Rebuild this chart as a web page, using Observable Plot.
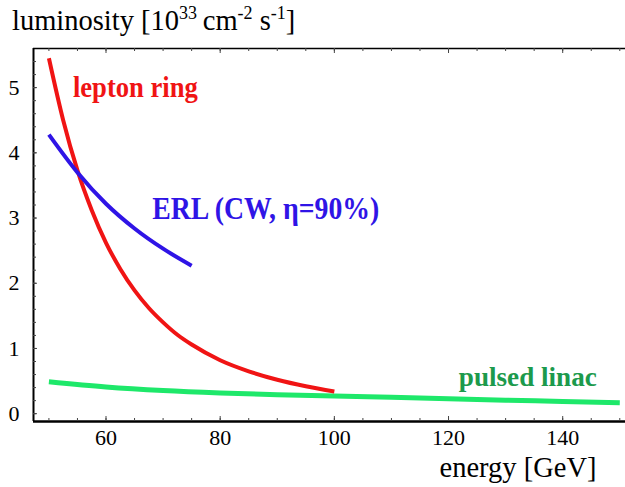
<!DOCTYPE html>
<html>
<head>
<meta charset="utf-8">
<script src="https://cdn.jsdelivr.net/npm/d3@7"></script>
<script src="https://cdn.jsdelivr.net/npm/@observablehq/plot@0.6"></script>
<style>
  html, body { margin: 0; padding: 0; background: #fff; }
  #chart { position: relative; width: 625px; height: 487px; font-family: "Liberation Serif", "Times New Roman", serif; color: #000; }
  #ytitle { position: absolute; left: 12px; top: 4px; font-size: 28.5px; line-height: 34px; white-space: nowrap; }
  #ytitle sup { font-size: 18px; vertical-align: 0; position: relative; top: -11px; }
  #chart svg { display: block; }
</style>
</head>
<body>
<div id="chart">
  <div id="ytitle">luminosity [10<sup>33</sup>&#8201;cm<sup>-2</sup> s<sup>-1</sup>]</div>
</div>
<script>
// Lepton ring: luminosity falls steeply with beam energy
const ringEnergy = [50, 52.5, 55, 57.5, 60, 62.5, 65, 67.5, 70, 72.5, 75, 80, 85, 90, 95, 100];
const ringLumi   = [5.45, 4.50, 3.73, 3.12, 2.62, 2.22, 1.89, 1.62, 1.40, 1.21, 1.06, 0.82, 0.65, 0.52, 0.42, 0.34];

// Energy-recovery linac, continuous wave, 90% recovery efficiency
const erlEnergy = [50, 55, 60, 65, 70, 75];
const erlLumi   = [4.28, 3.70, 3.22, 2.84, 2.53, 2.27];

// Pulsed linac
const linacEnergy = [50, 60, 70, 80, 90, 100, 110, 120, 130, 140, 150];
const linacLumi   = [0.49, 0.41, 0.355, 0.318, 0.292, 0.27, 0.25, 0.227, 0.207, 0.188, 0.168];

// Curve labels
const labelText   = ["lepton ring", "ERL (CW, \u03b7=90%)", "pulsed linac"];
const labelEnergy = [54.2, 68.1, 121.8];
const labelLumi   = [4.85, 2.98, 0.43];

// Axis ticks
const xMajor = [60, 80, 100, 120, 140];
const xMinor = d3.range(50, 151, 5);
const yMajor = [0, 1, 2, 3, 4, 5];
const yMinor = d3.range(0, 5.5, 0.2);

const xDomain = [47.3, 151];
const yDomain = [-0.12, 5.6];

const toRows = (xs, ys) => xs.map((e, i) => ({energy: e, lumi: ys[i]}));
const ring = toRows(ringEnergy, ringLumi);
const erl = toRows(erlEnergy, erlLumi);
const linac = toRows(linacEnergy, linacLumi);
const labels = labelText.map((t, i) => ({text: t, energy: labelEnergy[i], lumi: labelLumi[i]}));

const W = 625, H = 487;
const mTop = 48, mBottom = 66, mLeft = 33, mRight = 0;
const plotH = H - mTop - mBottom;
const plotW = W - mLeft - mRight;

const red = "#f01414", blue = "#2f14e6", green = "#1ee86a", greenText = "#1c9a4c";

const chart = Plot.plot({
  width: W,
  height: H,
  marginTop: mTop,
  marginBottom: mBottom,
  marginLeft: mLeft,
  marginRight: mRight,
  style: {fontFamily: "'Liberation Serif', 'Times New Roman', serif", background: "#fff", color: "#000"},
  x: {domain: xDomain, axis: null, label: null},
  y: {domain: yDomain, axis: null, label: null},
  marks: [
    // frame: left, bottom, top edges
    Plot.ruleX([xDomain[0]], {stroke: "#000", strokeWidth: 2}),
    Plot.ruleY([yDomain[0]], {stroke: "#000", strokeWidth: 2.5}),
    Plot.ruleY([yDomain[1]], {stroke: "#000", strokeWidth: 1.5}),
    // inward tick marks on bottom and top
    Plot.tickX(xMinor, {x: d => d, insetTop: plotH - 3, stroke: "#444"}),
    Plot.tickX(xMajor, {x: d => d, insetTop: plotH - 5, stroke: "#444"}),
    Plot.tickX(xMinor, {x: d => d, insetBottom: plotH - 3, stroke: "#444"}),
    Plot.tickX(xMajor, {x: d => d, insetBottom: plotH - 5, stroke: "#444"}),
    // inward tick marks on the left
    Plot.tickY(yMinor, {y: d => d, insetRight: plotW - 3, stroke: "#444"}),
    Plot.tickY(yMajor, {y: d => d, insetRight: plotW - 4, stroke: "#444"}),
    Plot.axisX(xMajor, {tickSize: 0, tickPadding: 8, fontSize: 22, label: null, tickFormat: d3.format("d")}),
    Plot.axisY(yMajor, {tickSize: 0, tickPadding: 14, fontSize: 22, label: null, tickFormat: d3.format("d")}),
    // x axis title
    Plot.text(["energy [GeV]"], {frameAnchor: "bottom-right", dx: -29, dy: 55, fontSize: 28.5, textAnchor: "end", lineAnchor: "bottom"}),
    // curves
    Plot.line(linac, {x: "energy", y: "lumi", stroke: green, strokeWidth: 5, curve: "monotone-x", strokeLinecap: "butt"}),
    Plot.line(ring, {x: "energy", y: "lumi", stroke: red, strokeWidth: 4, curve: "monotone-x", strokeLinecap: "butt"}),
    Plot.line(erl, {x: "energy", y: "lumi", stroke: blue, strokeWidth: 4, curve: "monotone-x", strokeLinecap: "butt"}),
    // curve labels
    Plot.text(labels, {
      x: "energy", y: "lumi", text: "text",
      textAnchor: "start", lineAnchor: "bottom",
      fontWeight: "bold", fontSize: (d, i) => [30, 31, 27][i],
      fill: (d, i) => [red, blue, greenText][i],
      className: "curve-label"
    })
  ]
});

// condense the bold curve labels to their drawn widths
const labelWidths = [125, 227, 138];
d3.select(chart).selectAll("g.curve-label text").each(function(d, i) {
  this.setAttribute("textLength", labelWidths[i]);
  this.setAttribute("lengthAdjust", "spacingAndGlyphs");
});

document.getElementById("chart").prepend(chart);
</script>
</body>
</html>
